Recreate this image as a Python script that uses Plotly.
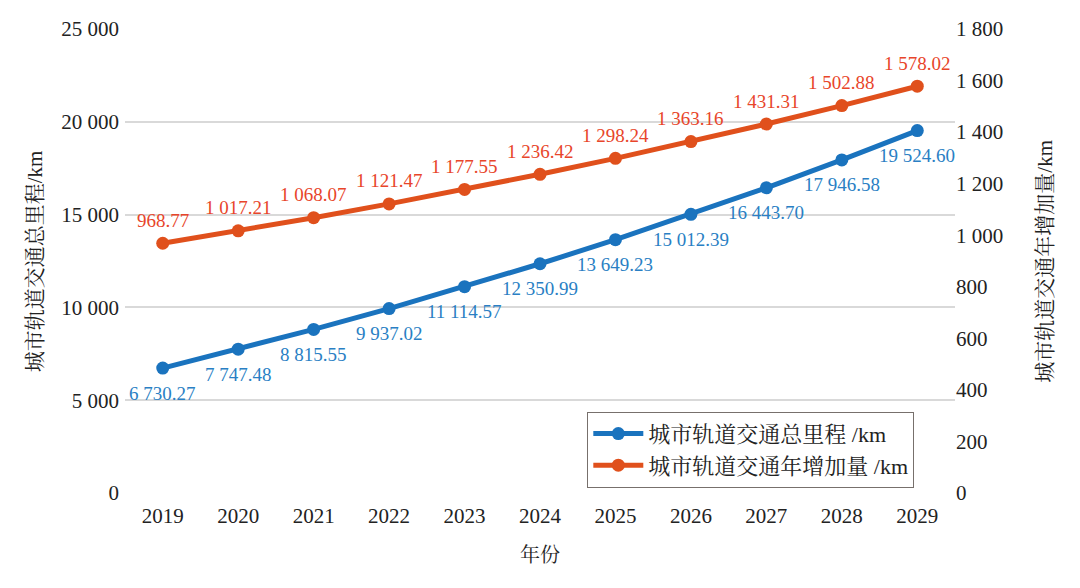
import plotly.graph_objects as go

years = ["2019", "2020", "2021", "2022", "2023", "2024", "2025", "2026", "2027", "2028", "2029"]
total_km = [6730.27, 7747.48, 8815.55, 9937.02, 11114.57, 12350.99, 13649.23, 15012.39, 16443.70, 17946.58, 19524.60]
annual_km = [968.77, 1017.21, 1068.07, 1121.47, 1177.55, 1236.42, 1298.24, 1363.16, 1431.31, 1502.88, 1578.02]

name_total = "城市轨道交通总里程/km"
name_annual = "城市轨道交通年增加量/km"
legend_total = "城市轨道交通总里程 /km"
legend_annual = "城市轨道交通年增加量 /km"
x_title = "年份"

def fmt(v):
    s = f"{v:,.2f}"
    return s.replace(",", " ")

FONT = "Liberation Serif, Noto Serif CJK SC, Noto Sans CJK SC, serif"
BLUE = "#1a73be"
ORANGE = "#e0501c"

fig = go.Figure()
fig.add_trace(go.Scatter(
    x=years, y=total_km, name=legend_total, mode="lines+markers",
    line=dict(color=BLUE, width=5), marker=dict(size=13, color=BLUE),
    yaxis="y", cliponaxis=False,
))
fig.add_trace(go.Scatter(
    x=years, y=annual_km, name=legend_annual, mode="lines+markers",
    line=dict(color=ORANGE, width=5), marker=dict(size=13, color=ORANGE),
    yaxis="y2", cliponaxis=False,
))

annotations = []
for i, v in enumerate(total_km):
    annotations.append(dict(x=i, y=v, xref="x", yref="y", text=fmt(v), showarrow=False,
                            xanchor="center", yanchor="middle",
                            yshift=-25, font=dict(color="#2a7fc4", size=19, family=FONT)))
for i, v in enumerate(annual_km):
    annotations.append(dict(x=i, y=v, xref="x", yref="y2", text=fmt(v), showarrow=False,
                            xanchor="center", yanchor="middle",
                            yshift=23, font=dict(color="#e8452a", size=19, family=FONT)))
annotations.append(dict(x=-0.108, y=0.5, xref="paper", yref="paper", text=name_total, textangle=-90,
                        xanchor="center", yanchor="middle",
                        showarrow=False, font=dict(size=21, family=FONT, color="#222222")))
annotations.append(dict(x=1.108, y=0.5, xref="paper", yref="paper", text=name_annual, textangle=-90,
                        xanchor="center", yanchor="middle",
                        showarrow=False, font=dict(size=21, family=FONT, color="#222222")))
annotations.append(dict(x=0.5, y=-0.134, xref="paper", yref="paper", text=x_title,
                        xanchor="center", yanchor="middle",
                        showarrow=False, font=dict(size=20, family=FONT, color="#222222")))

fig.update_layout(
    width=1064, height=572,
    margin=dict(l=117, r=117, t=21, b=87),
    paper_bgcolor="white", plot_bgcolor="white",
    font=dict(family=FONT, size=21, color="#222222"),
    separators=". ",
    showlegend=True,
    annotations=annotations,
    legend=dict(
        x=0.557, y=0.175, xanchor="left", yanchor="top",
        bordercolor="#77706c", borderwidth=1, bgcolor="white",
        font=dict(size=22, family=FONT, color="#222222"),
        tracegroupgap=0, itemwidth=50,
    ),
    xaxis=dict(
        type="category", range=[-0.5, 10.5], showgrid=False, showline=False,
        ticks="", automargin=False, tickfont=dict(size=21), ticklabelstandoff=8,
    ),
    yaxis=dict(
        range=[0, 25000], dtick=5000, showgrid=True, gridcolor="#d9d9d9", gridwidth=1.5,
        zeroline=False, showline=False, separatethousands=True, exponentformat="none",
        tickformat=",d", automargin=False, tickfont=dict(size=21), ticks="",
        ticklabelstandoff=5,
    ),
    yaxis2=dict(
        range=[0, 1800], dtick=200, overlaying="y", side="right", showgrid=False,
        zeroline=False, showline=False, separatethousands=True, exponentformat="none",
        tickformat=",d", automargin=False, tickfont=dict(size=21), ticks="",
    ),
)

fig.write_html("out.html")
